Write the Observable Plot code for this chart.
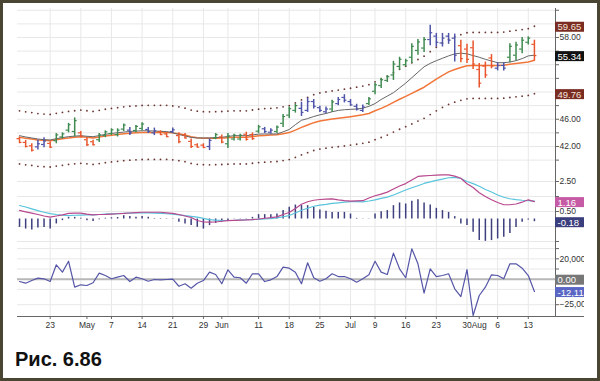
<!DOCTYPE html>
<html><head><meta charset="utf-8">
<script src="https://cdn.jsdelivr.net/npm/d3@7"></script>
<script src="https://cdn.jsdelivr.net/npm/@observablehq/plot@0.6"></script>
<style>
html,body{margin:0;padding:0;background:#fff;}
#wrap{position:relative;width:600px;height:381px;overflow:hidden;background:#fff;font-family:"Liberation Sans",Arial,sans-serif;}
#frame{position:absolute;left:0;top:0;width:600px;height:381px;box-sizing:border-box;border:3px solid #4a4634;pointer-events:none;}
.panel{position:absolute;left:0;}
.panel svg{overflow:hidden;display:block;}
#caption{position:absolute;left:15px;top:348px;font:bold 20px "Liberation Sans",Arial,sans-serif;color:#111;}
</style></head><body>
<div id="wrap">
 <div id="p1" class="panel" style="top:0px"></div>
 <div id="p2" class="panel" style="top:168px"></div>
 <div id="p3" class="panel" style="top:242px"></div>
 <div id="caption">Рис. 6.86</div>
 <div id="frame"></div>
</div>
<script>
// ---- data (trading days 16 Apr .. 14 Aug) ----
const high = [
43.4,42.9,42.4,42.9,43.3,42.7,43.9,44.0,45.4,46.2,
44.2,43.3,42.9,43.9,44.3,44.6,44.6,45.3,44.8,45.1,
45.5,44.8,44.7,44.3,44.0,44.7,44.0,43.9,43.1,42.4,
42.4,43.1,43.9,43.7,43.9,43.8,43.8,44.1,44.0,45.1,
44.8,44.6,45.0,46.7,47.8,48.2,48.5,49.1,48.9,47.9,
47.8,48.8,49.2,49.6,48.9,48.2,48.1,49.2,51.3,52.0,
52.4,54.5,55.1,54.8,57.1,57.7,58.0,59.8,58.6,58.6,
58.6,58.5,57.6,57.0,57.5,54.2,54.4,55.5,54.3,54.3,
57.1,57.3,58.0,58.1,57.6];
const low = [
42.4,41.8,41.2,41.5,41.8,41.7,42.4,43.1,44.0,43.4,
43.3,42.0,42.1,42.6,43.3,43.6,43.4,44.2,43.6,44.0,
44.3,43.9,43.6,43.6,43.3,43.9,42.4,43.1,41.7,41.8,
41.7,41.4,43.0,42.4,41.7,42.8,42.8,42.8,42.9,43.9,
43.9,43.8,43.9,44.8,46.1,46.9,46.4,47.0,47.5,47.0,
46.8,47.0,48.0,48.4,47.9,47.2,47.0,48.0,49.6,50.5,
51.4,51.7,53.2,53.7,54.2,55.4,55.8,56.8,56.6,56.6,
57.0,54.4,54.3,54.2,53.3,50.6,52.0,53.4,53.1,53.1,
54.3,54.6,55.6,56.9,54.6];
const open = [
43.15,42.6,42.1,41.95,42.3,42.45,42.85,43.4,44.4,44.2,
44.0,43.0,42.7,43.0,43.6,43.9,43.75,44.55,44.4,44.35,
44.65,44.5,44.0,44.15,43.85,44.2,43.6,43.7,42.75,42.25,
42.2,42.0,43.25,43.4,42.4,43.1,43.1,43.8,43.75,44.25,
44.6,44.1,44.2,45.4,46.6,47.3,47.6,47.3,48.6,47.7,
47.1,47.5,48.3,49.2,48.6,47.9,47.3,48.3,50.1,50.95,
51.7,52.5,53.75,54.0,55.1,56.1,56.45,57.7,58.2,57.2,
58.2,57.9,56.8,56.3,56.5,53.3,53.8,55.0,53.5,53.9,
55.1,55.4,56.3,57.3,57.0];
const close = [
42.6,42.0,41.45,42.4,42.8,41.9,43.7,43.85,45.2,45.8,
43.5,42.25,42.25,43.7,44.15,44.45,44.4,45.15,44.0,44.95,
45.3,44.2,44.3,43.75,43.45,44.45,42.7,43.25,42.0,41.9,
41.85,42.9,43.75,42.65,43.55,43.65,43.65,43.05,43.15,44.9,
44.2,44.4,44.85,46.4,47.55,48.0,47.0,48.6,47.9,47.3,
47.5,48.55,48.9,48.8,48.1,47.5,47.8,49.0,51.05,51.8,
52.25,54.1,54.8,54.6,56.7,57.35,57.7,58.7,57.3,57.9,
57.6,55.4,54.9,54.8,54.1,51.3,52.5,53.8,53.9,53.5,
56.7,56.9,57.6,57.9,55.34];
// impulse colour of each bar: g = green, r = red, b = blue
const impulse = ("rrrbbrgggg"+"rrrgggggbg"+"gbbrrbrrrr"+"rbgrgggrrg"+"bbggggbbbb"+
                 "bgbbbbbggg"+"gggggggbbb"+"bbrrrrrrbb"+"ggggr").split("");
const emaFast = [
43.59,43.4,43.25,43.1,43.0,42.96,43.15,43.3,43.45,43.52,
43.59,43.5,43.44,43.6,43.78,43.92,44.02,44.12,44.2,44.26,
44.31,44.3,44.27,44.23,44.19,44.0,43.75,43.55,43.33,43.25,
43.25,43.26,43.3,43.35,43.47,43.59,43.59,43.59,43.7,43.82,
43.84,43.84,43.84,44.15,44.5,45.2,45.85,46.1,46.4,46.65,
46.85,47.1,47.3,47.4,47.45,47.5,47.62,47.9,48.3,48.9,
49.4,49.9,50.6,51.3,52.1,52.9,53.7,54.2,54.6,54.95,
55.3,55.6,55.7,55.6,55.35,55.1,54.8,54.55,54.3,54.3,
54.4,54.6,54.9,55.3,55.4];
const emaSlow = [
43.34,43.2,43.1,42.96,42.9,42.85,43.0,43.12,43.26,43.35,
43.44,43.35,43.26,43.4,43.55,43.66,43.76,43.87,43.95,44.0,
44.06,44.07,44.07,44.07,44.07,44.0,43.87,43.7,43.43,43.28,
43.22,43.2,43.22,43.25,43.3,43.34,43.34,43.34,43.45,43.56,
43.63,43.68,43.74,43.88,44.04,44.4,44.8,45.15,45.5,45.74,
45.88,46.02,46.13,46.25,46.38,46.52,46.67,46.85,47.25,47.6,
48.0,48.47,48.93,49.35,49.8,50.25,50.7,51.3,51.9,52.45,
52.95,53.3,53.6,53.85,53.9,53.9,53.9,53.9,53.9,53.94,
54.06,54.17,54.28,54.4,54.65];
const upperBand = [
47.24,47.09,46.98,46.83,46.76,46.71,46.87,47.0,47.15,47.25,
47.35,47.25,47.15,47.31,47.47,47.59,47.7,47.82,47.91,47.96,
48.03,48.04,48.04,48.04,48.04,47.96,47.82,47.63,47.34,47.18,
47.11,47.09,47.11,47.14,47.2,47.24,47.24,47.24,47.36,47.48,
47.56,47.61,47.68,47.83,48.0,48.4,48.83,49.21,49.6,49.86,
50.01,50.16,50.28,50.41,50.55,50.71,50.87,51.07,51.5,51.88,
52.32,52.83,53.33,53.79,54.28,54.77,55.26,55.92,56.57,57.17,
57.72,58.1,58.42,58.7,58.75,58.75,58.75,58.75,58.75,58.79,
58.93,59.05,59.17,59.3,59.65];
const lowerBand = [
39.44,39.31,39.22,39.09,39.04,38.99,39.13,39.24,39.37,39.45,
39.53,39.45,39.37,39.49,39.63,39.73,39.82,39.92,39.99,40.04,
40.09,40.1,40.1,40.1,40.1,40.04,39.92,39.77,39.52,39.38,
39.33,39.31,39.33,39.36,39.4,39.44,39.44,39.44,39.54,39.64,
39.7,39.75,39.8,39.93,40.08,40.4,40.77,41.09,41.41,41.62,
41.75,41.88,41.98,42.09,42.21,42.33,42.47,42.63,43.0,43.32,
43.68,44.11,44.53,44.91,45.32,45.73,46.14,46.68,47.23,47.73,
48.18,48.5,48.78,49.0,49.05,49.05,49.05,49.05,49.05,49.09,
49.19,49.29,49.39,49.5,49.76];
const macdLine = [
0.57,0.48,0.39,0.3,0.2,0.12,0.2,0.28,0.37,0.39,
0.39,0.32,0.28,0.3,0.31,0.33,0.35,0.37,0.4,0.43,
0.45,0.45,0.45,0.45,0.41,0.37,0.3,0.2,0.1,-0.1,
-0.2,-0.21,-0.2,-0.15,-0.11,-0.09,-0.07,-0.06,-0.04,0.0,
0.05,0.09,0.14,0.3,0.43,0.7,0.98,1.15,1.25,1.3,
1.33,1.34,1.27,1.22,1.19,1.21,1.22,1.4,1.55,1.66,
1.79,2.0,2.2,2.36,2.6,2.84,2.87,2.9,2.92,2.94,
2.94,2.86,2.72,2.35,2.1,1.75,1.5,1.28,1.1,0.95,
0.95,1.0,1.12,1.28,1.16];
const signalLine = [
0.9,0.8,0.68,0.56,0.45,0.36,0.3,0.25,0.23,0.25,
0.26,0.27,0.28,0.3,0.32,0.34,0.36,0.38,0.39,0.4,
0.41,0.41,0.39,0.37,0.35,0.33,0.28,0.22,0.17,0.12,
0.04,-0.04,-0.08,-0.1,-0.1,-0.09,-0.07,-0.05,-0.04,-0.02,
0.0,0.02,0.08,0.15,0.23,0.4,0.58,0.72,0.85,0.93,
0.98,1.04,1.08,1.12,1.16,1.16,1.14,1.2,1.27,1.38,
1.46,1.6,1.77,1.93,2.08,2.22,2.37,2.48,2.57,2.66,
2.75,2.78,2.7,2.5,2.36,2.18,1.97,1.8,1.6,1.45,
1.35,1.29,1.25,1.23,1.2];
const histogram = [
-0.56,-0.67,-0.73,-0.6,-0.56,-0.67,-0.33,-0.11,0.11,0.11,
0.05,-0.11,-0.16,-0.05,0.05,0.08,0.1,0.22,0.16,0.11,
0.16,0.11,0.03,0.03,0.02,0.02,-0.22,-0.33,-0.44,-0.56,
-0.67,-0.44,-0.29,-0.22,-0.11,0.02,0.02,0.02,0.11,0.29,
0.29,0.29,0.33,0.56,0.78,0.93,0.89,0.89,0.78,0.6,
0.51,0.44,0.44,0.44,0.33,0.04,0.01,0.01,0.33,0.49,
0.56,0.89,1.07,1.0,1.18,1.29,1.07,0.93,0.71,0.56,
0.44,0.16,-0.33,-0.44,-0.89,-1.44,-1.49,-1.44,-1.33,-1.22,
-0.96,-0.56,-0.22,-0.07,-0.18];
const force = [
-2250,-3900,-1300,1000,400,-2300,14100,6900,17600,-7800,
-5500,-6200,-3500,5900,3600,400,2000,3600,-2300,2000,
400,-2000,-300,-600,-300,0,-6900,-4500,-8800,-3900,
-1300,6900,4600,-4500,9200,2000,1400,-3900,5300,5300,
-2300,-600,2600,11800,10800,6900,-4500,16100,1400,-2000,
400,5300,2600,2600,400,-2900,400,4300,17600,6900,
4600,25500,10200,1400,29800,15100,-13700,10200,2600,3600,
5300,-9400,-17000,9500,-35600,-16000,-7800,4300,3600,400,
15100,15100,10800,3600,-12114];
// axis ticks / labels
const dateTickIdx = [5,11,15,20,25,30,33,39,44,49,54,58,63,68,73,75,78,83];
const dateTickLbl = ["23","May","7","14","21","29","Jun","11","18","25","Jul","9","16","23","30","Aug","6","13"];
const weekGridIdx = [5,10,15,20,25,30,34,39,44,49,54,58,63,68,73,78,83];
const priceTicks = [40,42,44,46,48,50,52,54,56,58,60,62];
const priceLabeled = [58,46,42];
const macdTicks = [2.5,1.5,0.5,-0.5,-1.5];
const macdLabeled = [2.5,0.5];
const forceTicks = [30000,20000,10000,0,-10000,-25000];
const forceLabeled = [20000,-25000];
const priceBoxes = [{v:59.65,t:"59.65",bg:"#7a2c22",fg:"#f4e2da"},{v:55.34,t:"55.34",bg:"#111111",fg:"#ffffff"},{v:49.76,t:"49.76",bg:"#7a2c22",fg:"#f4e2da"}];
const macdBoxes = [{v:1.16,t:"1.16",bg:"#c55aa5",fg:"#ffffff"},{v:-0.18,t:"-0.18",bg:"#3c3f7d",fg:"#ffffff"}];
const forceBoxes = [{v:0,t:"0.00",bg:"#777777",fg:"#ffffff"},{v:-12114,t:"-12,114",bg:"#5a66c4",fg:"#ffffff"}];

// ---- drawing ----
const barColor = {g:"#3f8a50", r:"#e9552c", b:"#4e54a8"};
const W = 584, ML = 17, MR = 29;
const xStart = -0.33, xEnd = 87.44;
const idx = d3.range(high.length);
const bars = idx.map(i => ({i, h: high[i], l: low[i], o: open[i], c: close[i], col: barColor[impulse[i]]}));
const gridC = "#e8e8e8", axisC = "#666";
const style = {fontFamily: "'Liberation Sans', Arial, sans-serif", fontSize: "8.5px", color: "#333", background: "transparent", overflow: "hidden"};

function boxes(list) {
  const m = [];
  for (const b of list) {
    m.push(Plot.rect([b], {x1: xEnd, x2: xEnd, y1: "v", y2: "v", insetTop: -5, insetBottom: -5, insetRight: -29, fill: b.bg, dy: 1}));
    m.push(Plot.text([b], {x: xEnd, y: "v", text: "t", fill: b.fg, dx: 2, dy: 1, textAnchor: "start", fontSize: 9.5}));
  }
  return m;
}
function sep(yv) {
  return Plot.ruleY([yv], {x1: xEnd, x2: xEnd, insetRight: -29, stroke: "#888"});
}
const axisOpts = {anchor: "right", tickSize: 3, tickPadding: 1, label: null, fontSize: 8.5, stroke: axisC};

const yPrice = [38.77, 62.257];
const p1 = Plot.plot({
  width: W, height: 168, marginLeft: ML, marginRight: MR, marginTop: 8, marginBottom: 0,
  style, x: {domain: [xStart, xEnd], axis: null}, y: {domain: yPrice, axis: null},
  color: {type: "identity"},
  marks: [
    Plot.ruleY(priceTicks, {stroke: gridC}),
    Plot.ruleX(weekGridIdx, {stroke: gridC}),
    Plot.dot(idx, {x: i => i, y: i => upperBand[i], r: 0.9, fill: "#6a3530"}),
    Plot.dot(idx, {x: i => i, y: i => lowerBand[i], r: 0.9, fill: "#6a3530"}),
    Plot.line(idx, {x: i => i, y: i => emaSlow[i], stroke: "#f2763a", strokeWidth: 1.5}),
    Plot.line(idx, {x: i => i, y: i => emaFast[i], stroke: "#666", strokeWidth: 1}),
    Plot.ruleX(bars, {x: "i", y1: "l", y2: "h", stroke: "col", strokeWidth: 1.5}),
    Plot.ruleY(bars, {y: "o", x1: "i", x2: "i", insetLeft: -2.5, stroke: "col", strokeWidth: 1.2}),
    Plot.ruleY(bars, {y: "c", x1: "i", x2: "i", insetRight: -2.5, stroke: "col", strokeWidth: 1.2}),
    Plot.ruleX([xEnd], {stroke: axisC}),
    Plot.axisY(priceTicks, {...axisOpts, tickFormat: d => priceLabeled.includes(d) ? d.toFixed(2) : ""}),
    sep(yPrice[0]),
    ...boxes(priceBoxes)
  ]
});
document.getElementById("p1").append(p1);

const yMacd = [-1.567, 3.367];
const p2 = Plot.plot({
  width: W, height: 74, marginLeft: ML, marginRight: MR, marginTop: 0, marginBottom: 0,
  style, x: {domain: [xStart, xEnd], axis: null}, y: {domain: yMacd, axis: null},
  marks: [
    Plot.ruleY(macdTicks, {stroke: gridC}),
    Plot.ruleX(weekGridIdx, {stroke: gridC}),
    Plot.ruleX(idx, {x: i => i, y1: 0, y2: i => histogram[i], stroke: "#3d3f7e", strokeWidth: 1.5}),
    Plot.line(idx, {x: i => i, y: i => signalLine[i], stroke: "#58c4dc", strokeWidth: 1.2}),
    Plot.line(idx, {x: i => i, y: i => macdLine[i], stroke: "#b8488e", strokeWidth: 1.2}),
    Plot.ruleX([xEnd], {stroke: axisC}),
    Plot.axisY(macdTicks, {...axisOpts, tickFormat: d => macdLabeled.includes(d) ? d.toFixed(2) : ""}),
    sep(yMacd[0]),
    ...boxes(macdBoxes)
  ]
});
document.getElementById("p2").append(p2);

const yForce = [-36569, 35980];
const lblMap = new Map(dateTickIdx.map((d, k) => [d, dateTickLbl[k]]));
const p3 = Plot.plot({
  width: W, height: 96, marginLeft: ML, marginRight: MR, marginTop: 0, marginBottom: 22,
  style, x: {domain: [xStart, xEnd], axis: null}, y: {domain: yForce, axis: null},
  marks: [
    Plot.ruleY(forceTicks, {stroke: gridC}),
    Plot.ruleX(weekGridIdx, {stroke: gridC}),
    Plot.ruleY([0], {stroke: "#b8b8b8", strokeWidth: 2}),
    Plot.line(idx, {x: i => i, y: i => force[i], stroke: "#5656a8", strokeWidth: 1.2}),
    Plot.ruleX([xEnd], {stroke: axisC}),
    Plot.axisY(forceTicks, {...axisOpts, tickFormat: d => forceLabeled.includes(d) ? d3.format(",")(d) : ""}),
    Plot.ruleY([yForce[0]], {insetRight: -29, stroke: axisC}),
    Plot.axisX(dateTickIdx, {anchor: "bottom", tickSize: 3, tickPadding: 2, label: null, fontSize: 8.5, stroke: axisC,
      tickFormat: d => lblMap.get(d)}),
    ...boxes(forceBoxes)
  ]
});
document.getElementById("p3").append(p3);
</script>
</body></html>
